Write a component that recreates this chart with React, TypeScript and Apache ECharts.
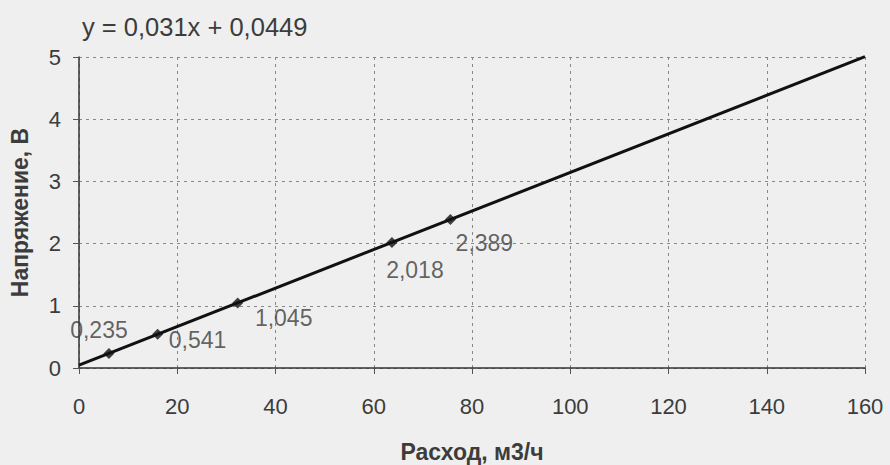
import React, { useEffect, useRef } from "react";
import * as echarts from "echarts";

const flowX = [6.1, 16.0, 32.3, 63.7, 75.6];
const voltY = [0.235, 0.541, 1.045, 2.018, 2.389];
const pointLabels = ["0,235", "0,541", "1,045", "2,018", "2,389"];
const labelOffsets: [number, number][] = [
  [-10, -23],
  [40, 6],
  [46, 15],
  [23, 28],
  [34, 24],
];
const trendX = [0, 160];
const trendY = [0.0449, 5.0049];
const equationText = "y = 0,031x + 0,0449";
const xTitle = "Расход, м3/ч";
const yTitle = "Напряжение, В";

const FONT = "'Liberation Sans', Arial, sans-serif";
const TXT = "#3c3c3c";

export default function App() {
  const ref = useRef<HTMLDivElement>(null);
  useEffect(() => {
    if (!ref.current) return;
    const chart = echarts.init(ref.current, null, { renderer: "svg" });
    chart.setOption({
      animation: false,
      backgroundColor: "#efefef",
      textStyle: { fontFamily: FONT },
      grid: {
        left: 79,
        right: 25,
        top: 57,
        bottom: 97,
        containLabel: false,
        outerBoundsMode: "none",
      },
      xAxis: {
        type: "value",
        min: 0,
        max: 160,
        interval: 20,
        name: xTitle,
        nameLocation: "middle",
        nameGap: 72,
        nameTextStyle: { fontFamily: FONT, fontSize: 23, fontWeight: "bold", color: TXT },
        axisLine: { show: true, onZero: false, lineStyle: { color: "#333", width: 1.5 } },
        axisTick: { show: true, length: 6, inside: false, lineStyle: { color: "#555" } },
        axisLabel: {
          fontFamily: FONT,
          fontSize: 22,
          color: TXT,
          margin: 27,
          formatter: (v: number) => String(v),
        },
        splitLine: { show: true, lineStyle: { color: "#888", type: [3, 4], width: 1 } },
      },
      yAxis: {
        type: "value",
        min: 0,
        max: 5,
        interval: 1,
        name: yTitle,
        nameLocation: "middle",
        nameGap: 48,
        nameRotate: 90,
        nameTextStyle: { fontFamily: FONT, fontSize: 23, fontWeight: "bold", color: TXT },
        axisLine: { show: true, onZero: false, lineStyle: { color: "#333", width: 1.5 } },
        axisTick: { show: true, length: 6, inside: false, lineStyle: { color: "#555" } },
        axisLabel: { fontFamily: FONT, fontSize: 22, color: TXT, margin: 18 },
        splitLine: { show: true, lineStyle: { color: "#888", type: [3, 4], width: 1 } },
      },
      graphic: [
        {
          type: "text",
          left: 82,
          top: 14,
          style: { text: equationText, font: `25.5px ${FONT}`, fill: TXT },
        },
      ],
      series: [
        {
          type: "line",
          data: trendX.map((x, i) => [x, trendY[i]]),
          showSymbol: false,
          symbol: "none",
          lineStyle: { color: "#111", width: 3 },
          clip: false,
          z: 2,
        },
        {
          type: "scatter",
          symbol: "diamond",
          symbolSize: 11,
          itemStyle: { color: "#111" },
          z: 3,
          data: flowX.map((x, i) => ({
            value: [x, voltY[i]],
            label: {
              show: true,
              position: "inside",
              offset: labelOffsets[i],
              formatter: pointLabels[i],
              fontFamily: FONT,
              fontSize: 23,
              color: TXT,
            },
          })),
        },
      ],
    });
    return () => chart.dispose();
  }, []);
  return (
    <div
      ref={ref}
      style={{ position: "fixed", left: 0, top: 0, width: 890, height: 465 }}
    />
  );
}
